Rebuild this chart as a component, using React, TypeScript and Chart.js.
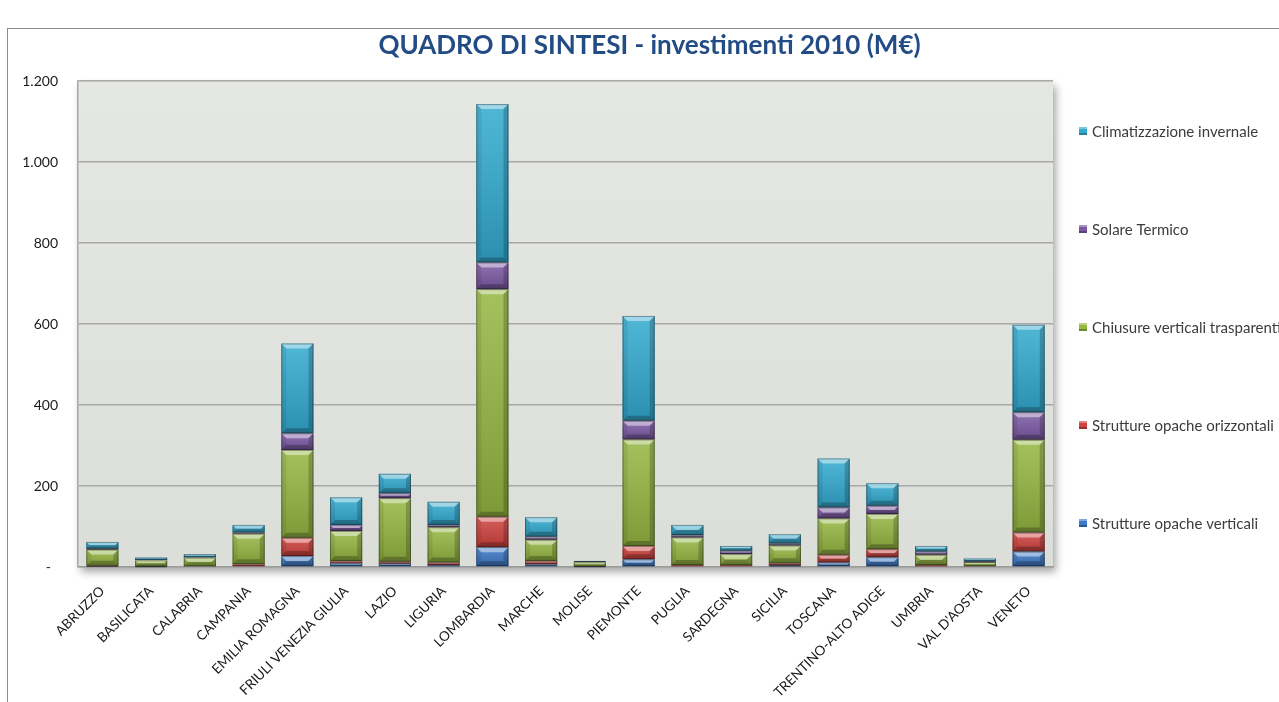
import React, { useEffect, useRef } from 'react';
import { Chart, registerables } from 'chart.js';

Chart.register(...registerables);

const categories = [
  'ABRUZZO', 'BASILICATA', 'CALABRIA', 'CAMPANIA', 'EMILIA ROMAGNA',
  'FRIULI VENEZIA GIULIA', 'LAZIO', 'LIGURIA', 'LOMBARDIA', 'MARCHE',
  'MOLISE', 'PIEMONTE', 'PUGLIA', 'SARDEGNA', 'SICILIA', 'TOSCANA',
  'TRENTINO-ALTO ADIGE', 'UMBRIA', "VAL D'AOSTA", 'VENETO',
];

const struttureOpacheVerticali = [1, 0.5, 1, 2, 27, 9, 8, 5, 49, 7, 0.5, 19, 2, 2, 4, 11, 24, 2, 1, 38];
const struttureOpacheOrizzontali = [2, 1, 1, 5, 45, 6, 5, 6, 75, 8, 0.5, 33, 3, 3, 5, 19, 20, 3, 1, 47];
const chiusureVerticaliTrasparenti = [40, 15, 21, 75, 217, 74, 157, 87, 562, 52, 11, 263, 68, 27, 44, 90, 87, 25, 10, 229];
const solareTermico = [2, 1, 1, 3, 41, 15, 12, 6, 66, 8, 1, 46, 6, 8, 5, 27, 20, 8, 2, 68];
const climatizzazioneInvernale = [17, 6, 8, 19, 222, 68, 48, 57, 391, 48, 2, 259, 25, 12, 23, 121, 56, 14, 7, 216];

const seriesLabels = [
  'Strutture opache verticali',
  'Strutture opache orizzontali',
  'Chiusure verticali trasparenti',
  'Solare Termico',
  'Climatizzazione invernale',
];

const yMin = 0;
const yMax = 1200;
const yStep = 200;

const titleText = 'QUADRO DI SINTESI - investimenti 2010 (M€)';

const fills = ['#3d79c6', '#d0433f', '#95b742', '#7c5aa5', '#33abd0'];

function formatTick(v: number): string {
  if (v === 0) return '-  ';
  const s = String(Math.round(v));
  return s.replace(/\B(?=(\d{3})+(?!\d))/g, '.');
}

const plotBgPlugin = {
  id: 'plotBg',
  beforeDraw(chart: any) {
    const { ctx, chartArea } = chart;
    const { left, top, right, bottom } = chartArea;
    ctx.save();
    ctx.shadowColor = 'rgba(0,0,0,0.35)';
    ctx.shadowBlur = 8;
    ctx.shadowOffsetX = 3;
    ctx.shadowOffsetY = 5;
    const g = ctx.createLinearGradient(0, top, 0, bottom);
    g.addColorStop(0, '#e5e7e2');
    g.addColorStop(1, '#dcdfd9');
    ctx.fillStyle = g;
    ctx.fillRect(left, top, right - left, bottom - top);
    ctx.restore();
  },
};

const bevelPlugin = {
  id: 'bevel',
  afterDatasetsDraw(chart: any) {
    const { ctx } = chart;
    ctx.save();
    chart.getSortedVisibleDatasetMetas().forEach((meta: any) => {
      meta.data.forEach((el: any) => {
        const p = el.getProps(['x', 'y', 'base', 'width'], true);
        const l = p.x - p.width / 2;
        const r = p.x + p.width / 2;
        const t = Math.min(p.y, p.base);
        const b = Math.max(p.y, p.base);
        const h = b - t;
        if (h < 0.5) return;
        const bv = Math.min(5, h / 2);
        const g = ctx.createLinearGradient(0, t, 0, b);
        g.addColorStop(0, 'rgba(255,255,255,0.14)');
        g.addColorStop(1, 'rgba(0,0,0,0.16)');
        ctx.fillStyle = g;
        ctx.fillRect(l, t, r - l, h);
        ctx.fillStyle = 'rgba(255,255,255,0.45)';
        ctx.beginPath();
        ctx.moveTo(l, t); ctx.lineTo(r, t); ctx.lineTo(r - bv, t + bv); ctx.lineTo(l + bv, t + bv);
        ctx.closePath(); ctx.fill();
        ctx.fillStyle = 'rgba(0,0,0,0.25)';
        ctx.beginPath();
        ctx.moveTo(l, b); ctx.lineTo(r, b); ctx.lineTo(r - bv, b - bv); ctx.lineTo(l + bv, b - bv);
        ctx.closePath(); ctx.fill();
        ctx.fillStyle = 'rgba(0,0,0,0.08)';
        ctx.beginPath();
        ctx.moveTo(l, t); ctx.lineTo(l + bv, t + bv); ctx.lineTo(l + bv, b - bv); ctx.lineTo(l, b);
        ctx.closePath(); ctx.fill();
        ctx.fillStyle = 'rgba(0,0,0,0.2)';
        ctx.beginPath();
        ctx.moveTo(r, t); ctx.lineTo(r - bv, t + bv); ctx.lineTo(r - bv, b - bv); ctx.lineTo(r, b);
        ctx.closePath(); ctx.fill();
        ctx.strokeStyle = 'rgba(0,0,0,0.35)';
        ctx.lineWidth = 1;
        ctx.strokeRect(l + 0.5, t + 0.5, r - l - 1, Math.max(h - 1, 0));
      });
    });
    ctx.restore();
  },
};

const legendPlugin = {
  id: 'sideLegend',
  afterDraw(chart: any) {
    const { ctx, chartArea } = chart;
    const ds = chart.data.datasets;
    ctx.save();
    ctx.font = '15px Lato';
    ctx.textBaseline = 'middle';
    ctx.textAlign = 'left';
    for (let i = 0; i < ds.length; i++) {
      const d = ds[ds.length - 1 - i];
      const x = chartArea.right + 26;
      const y = chartArea.top + 50 + i * 98;
      ctx.fillStyle = d.backgroundColor;
      ctx.fillRect(x, y - 4, 8, 8);
      ctx.fillStyle = 'rgba(255,255,255,0.35)';
      ctx.fillRect(x, y - 4, 8, 2);
      ctx.fillStyle = 'rgba(0,0,0,0.25)';
      ctx.fillRect(x, y + 2, 8, 2);
      ctx.fillStyle = '#3c3c3c';
      ctx.fillText(d.label, x + 13, y + 1);
    }
    ctx.restore();
  },
};

export default function App() {
  const ref = useRef<HTMLCanvasElement>(null);

  useEffect(() => {
    document.body.style.margin = '0';
    const canvas = ref.current;
    if (!canvas) return;
    const seriesData = [
      struttureOpacheVerticali,
      struttureOpacheOrizzontali,
      chiusureVerticaliTrasparenti,
      solareTermico,
      climatizzazioneInvernale,
    ];
    const chart = new Chart(canvas, {
      type: 'bar',
      data: {
        labels: categories,
        datasets: seriesData.map((d, i) => ({
          label: seriesLabels[i],
          data: d,
          backgroundColor: fills[i],
          borderWidth: 0,
          categoryPercentage: 1,
          barPercentage: 0.66,
          yAxisID: 'y',
        })),
      },
      options: {
        responsive: false,
        animation: false,
        devicePixelRatio: 1,
        layout: { padding: { left: 20, right: 0, top: 0, bottom: 0 } },
        plugins: {
          legend: { display: false },
          tooltip: { enabled: false },
          title: {
            display: true,
            text: titleText,
            color: '#234c85',
            font: { family: 'Lato', size: 26, weight: 'bold', lineHeight: 1.2 },
            padding: { top: 30, bottom: 19.8 },
          },
        },
        scales: {
          x: {
            stacked: true,
            grid: { display: false },
            border: { display: true, color: '#9c9c9c', width: 1.5 },
            ticks: {
              autoSkip: false,
              maxRotation: 45,
              minRotation: 45,
              padding: 8,
              color: '#1a1a1a',
              font: { family: 'Lato', size: 13.5 },
            },
            afterFit: (s: any) => { s.height = 135; },
          },
          y: {
            stacked: true,
            min: yMin,
            max: yMax,
            grid: { color: '#a8a8a8', lineWidth: 1.5, drawTicks: false },
            border: { display: true, color: '#a8a8a8', width: 1.5 },
            ticks: {
              stepSize: yStep,
              padding: 20,
              color: '#1a1a1a',
              font: { family: 'Lato', size: 14 },
              callback: (v: any) => formatTick(Number(v)),
            },
            afterFit: (s: any) => { s.width = 58; },
          },
          yLegendSpace: {
            type: 'linear',
            position: 'right',
            display: true,
            grid: { display: false },
            border: { display: false },
            ticks: { display: false },
            afterFit: (s: any) => { s.width = 226; },
          },
        },
      },
      plugins: [plotBgPlugin, bevelPlugin, legendPlugin],
    } as any);
    return () => chart.destroy();
  }, []);

  return (
    <div style={{ position: 'relative', width: 1279, height: 702, overflow: 'hidden', background: '#fff' }}>
      <div style={{ position: 'absolute', left: 7, top: 28, width: 1320, height: 720, border: '1px solid #8c8c8c' }} />
      <canvas ref={ref} width={1279} height={702} style={{ position: 'absolute', left: 0, top: 0, width: 1279, height: 702 }} />
    </div>
  );
}
